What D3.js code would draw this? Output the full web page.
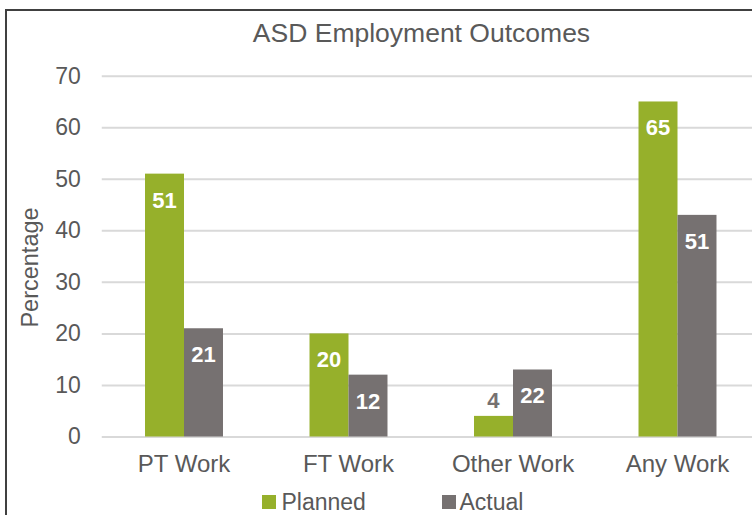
<!DOCTYPE html>
<html>
<head>
<meta charset="utf-8">
<script src="https://cdn.jsdelivr.net/npm/d3@7"></script>
<style>
  html, body { margin: 0; padding: 0; background: #fff; }
  svg { display: block; font-family: "Liberation Sans", Arial, sans-serif; }
</style>
</head>
<body>
<svg id="chart" width="752" height="515"></svg>
<script>
const title = "ASD Employment Outcomes";
const categories = ["PT Work", "FT Work", "Other Work", "Any Work"];
const seriesNames = ["Planned", "Actual"];
const plannedValues = [51, 20, 4, 65];
const actualValues = [21, 12, 13, 43];
const plannedLabels = ["51", "20", "4", "65"];
const actualLabels = ["21", "12", "22", "51"];
const yTicks = [0, 10, 20, 30, 40, 50, 60, 70];
const yTitle = "Percentage";

const colors = { Planned: "#96B02B", Actual: "#767171" };
const textColor = "#595959";
const gridColor = "#D9D9D9";

const svg = d3.select("#chart");

// outer chart border (chart extends past the window on right/bottom)
svg.append("rect")
  .attr("x", 6).attr("y", 10)
  .attr("width", 900).attr("height", 700)
  .attr("fill", "#fff")
  .attr("stroke", "#404040")
  .attr("stroke-width", 2);

const x0 = 101.75, step = 164.5;
const x = d3.scaleBand()
  .domain(categories)
  .range([x0, x0 + step * categories.length])
  .paddingInner(0.526)
  .paddingOuter(0.263);
const xs = d3.scaleBand().domain(seriesNames).range([0, x.bandwidth()]);
const y = d3.scaleLinear().domain([0, 70]).range([436.5, 75.7]);

// gridlines
const yAxis = d3.axisLeft(y).tickValues(yTicks).tickSize(-(800 - x0)).tickPadding(21);
const gy = svg.append("g").attr("transform", `translate(${x0},0)`).call(yAxis);
gy.select(".domain").remove();
gy.selectAll(".tick line").attr("stroke", gridColor).attr("stroke-width", 2);
gy.selectAll(".tick text")
  .attr("fill", textColor)
  .style("font-size", "23px")
  .style("font-family", "'Liberation Sans', Arial, sans-serif");

// bars
const data = categories.map((c, i) => ({
  cat: c,
  vals: [
    { s: "Planned", v: plannedValues[i], label: plannedLabels[i] },
    { s: "Actual", v: actualValues[i], label: actualLabels[i] }
  ]
}));

const groups = svg.append("g").selectAll("g").data(data).join("g")
  .attr("transform", d => `translate(${x(d.cat)},0)`);

groups.selectAll("rect").data(d => d.vals).join("rect")
  .attr("x", d => xs(d.s))
  .attr("width", xs.bandwidth())
  .attr("y", d => y(d.v))
  .attr("height", d => y(0) - y(d.v))
  .attr("fill", d => colors[d.s]);

groups.selectAll("text").data(d => d.vals).join("text")
  .attr("x", d => xs(d.s) + xs.bandwidth() / 2)
  .attr("y", d => (y(0) - y(d.v)) > 40 ? y(d.v) + 34 : y(d.v) - 7.5)
  .attr("text-anchor", "middle")
  .attr("fill", d => (y(0) - y(d.v)) > 40 ? "#fff" : "#767171")
  .style("font-size", "22px")
  .style("font-weight", "bold")
  .text(d => d.label);

// x axis labels
const xAxis = d3.axisBottom(x).tickSize(0).tickPadding(0);
const gx = svg.append("g").attr("transform", `translate(0,${y(0)})`).call(xAxis);
gx.select(".domain").remove();
gx.selectAll(".tick text")
  .attr("fill", textColor)
  .attr("dy", null)
  .attr("y", 35.5)
  .style("font-size", "24px")
  .style("font-family", "'Liberation Sans', Arial, sans-serif");

// title
svg.append("text")
  .attr("x", 421.5).attr("y", 42)
  .attr("text-anchor", "middle")
  .attr("fill", textColor)
  .style("font-size", "26.5px")
  .text(title);

// y-axis title
svg.append("text")
  .attr("transform", "translate(37.5,267.5) rotate(-90)")
  .attr("text-anchor", "middle")
  .attr("fill", textColor)
  .style("font-size", "23.5px")
  .text(yTitle);

// legend
const legendPos = [{ sx: 262, tx: 281.5 }, { sx: 442, tx: 459.5 }];
const lg = svg.append("g").selectAll("g").data(seriesNames).join("g");
lg.append("rect")
  .attr("x", (d, i) => legendPos[i].sx).attr("y", 495)
  .attr("width", 14).attr("height", 14)
  .attr("fill", d => colors[d]);
lg.append("text")
  .attr("x", (d, i) => legendPos[i].tx).attr("y", 509.5)
  .attr("fill", textColor)
  .style("font-size", "23px")
  .text(d => d);
</script>
</body>
</html>
